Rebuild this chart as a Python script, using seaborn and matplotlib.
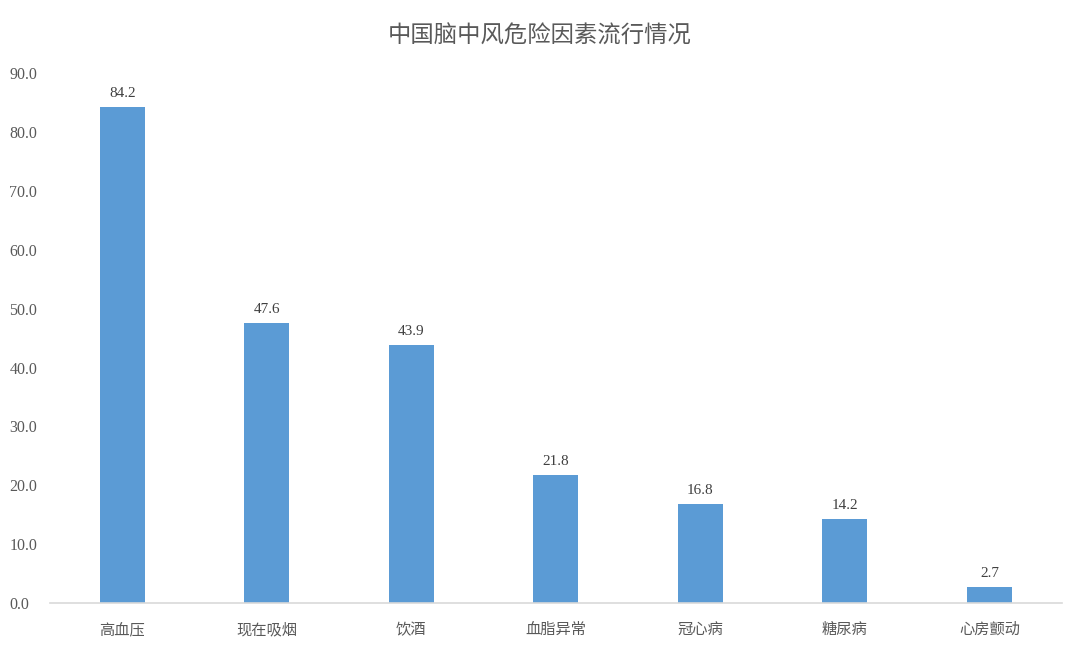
import matplotlib
matplotlib.use("Agg")
import matplotlib.pyplot as plt
import seaborn as sns
import pandas as pd

categories = ["高血压", "现在吸烟", "饮酒", "血脂异常", "冠心病", "糖尿病", "心房颤动"]
values = [84.2, 47.6, 43.9, 21.8, 16.8, 14.2, 2.7]
title = "中国脑中风危险因素流行情况"
yticks = [0, 10, 20, 30, 40, 50, 60, 70, 80, 90]

sns.set_theme(style="white")
plt.rcParams['font.family'] = ['Noto Sans CJK SC', 'DejaVu Sans']

df = pd.DataFrame({"cat": categories, "val": values})

fig = plt.figure(figsize=(10.8, 6.48), dpi=100)
ax = fig.add_axes([0.0463, 0.0694, 0.9367, 0.8176])
sns.barplot(data=df, x="cat", y="val", color="#5B9BD5", width=0.31,
            saturation=1, ax=ax, edgecolor="none")

ax.set_ylim(0, 90)
ax.set_yticks(yticks)
ax.set_yticklabels([f"{v:.1f}" for v in yticks], family="Liberation Serif",
                   fontsize=11.5, color="#595959")
ax.set_xlim(-0.5, len(categories) - 0.5)
ax.tick_params(axis="x", labelsize=11, colors="#595959", length=0, pad=13)
ax.tick_params(axis="y", length=0, pad=-2)
for lab in ax.get_yticklabels():
    lab.set_horizontalalignment("left")
    lab.set_x(-0.043)
ax.set_xlabel("")
ax.set_ylabel("")

for s in ["top", "right", "left"]:
    ax.spines[s].set_visible(False)
ax.spines["bottom"].set_color("#D9D9D9")
ax.spines["bottom"].set_linewidth(1.2)

for container in ax.containers:
    ax.bar_label(container, labels=[f"{v:.1f}" for v in values], padding=5,
                 family="Liberation Serif", fontsize=11, color="#404040")

fig.suptitle(title, x=0.5, y=0.962, fontsize=16.8, color="#595959")
fig.savefig("out.png", dpi=100, facecolor="white")
